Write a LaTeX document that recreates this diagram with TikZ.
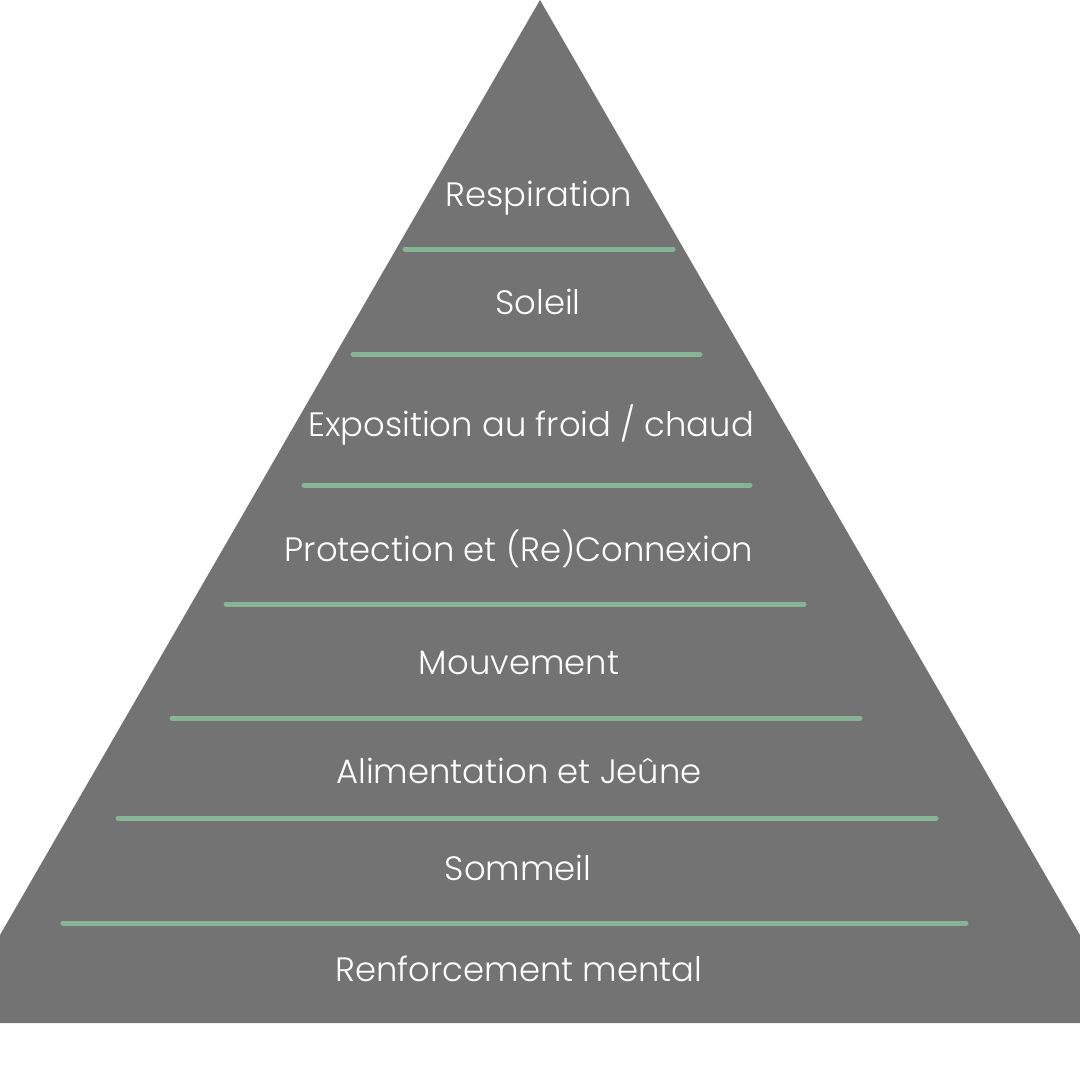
\documentclass[tikz,border=0pt]{standalone}
\usepackage{fontspec}
\setmainfont{Poppins}[UprightFont=* Light]
\definecolor{pyrgray}{HTML}{737373}
\definecolor{pyrgreen}{HTML}{86B494}
\begin{document}
\begin{tikzpicture}[x=1pt,y=-1pt,
  sep/.style={draw=pyrgreen,line width=5pt,line cap=round},
  lvl/.style={text=white,font=\fontsize{33.8}{40}\selectfont,inner sep=0pt,anchor=base}]
\useasboundingbox (0,0) rectangle (1080,1080);
\fill[pyrgray] (540,0) -- (1080,935) -- (1080,1023) -- (0,1023) -- (0,935) -- cycle;
\coordinate (a1) at (405,249); \coordinate (b1) at (673,249);
\coordinate (a2) at (353,354); \coordinate (b2) at (700,354);
\coordinate (a3) at (304,485); \coordinate (b3) at (750,485);
\coordinate (a4) at (226,604); \coordinate (b4) at (804,604);
\coordinate (a5) at (172,718); \coordinate (b5) at (860,718);
\coordinate (a6) at (118,818); \coordinate (b6) at (936,818);
\coordinate (a7) at (63,923);  \coordinate (b7) at (966,923);
\foreach \i in {1,...,7} {\draw[sep] (a\i) -- (b\i);}
\node[lvl] (t1) at (539,206) {Respiration};
\node[lvl] (t2) at (538,314) {Soleil};
\node[lvl] (t3) at (531,436) {Exposition au froid / chaud};
\node[lvl] (t4) at (519,561) {Protection et (Re)Connexion};
\node[lvl] (t5) at (519,674) {Mouvement};
\node[lvl] (t6) at (519,783) {Alimentation et Jeûne};
\node[lvl] (t7) at (518,880) {Sommeil};
\node[lvl] (t8) at (519,981) {Renforcement mental};
\end{tikzpicture}
\end{document}
